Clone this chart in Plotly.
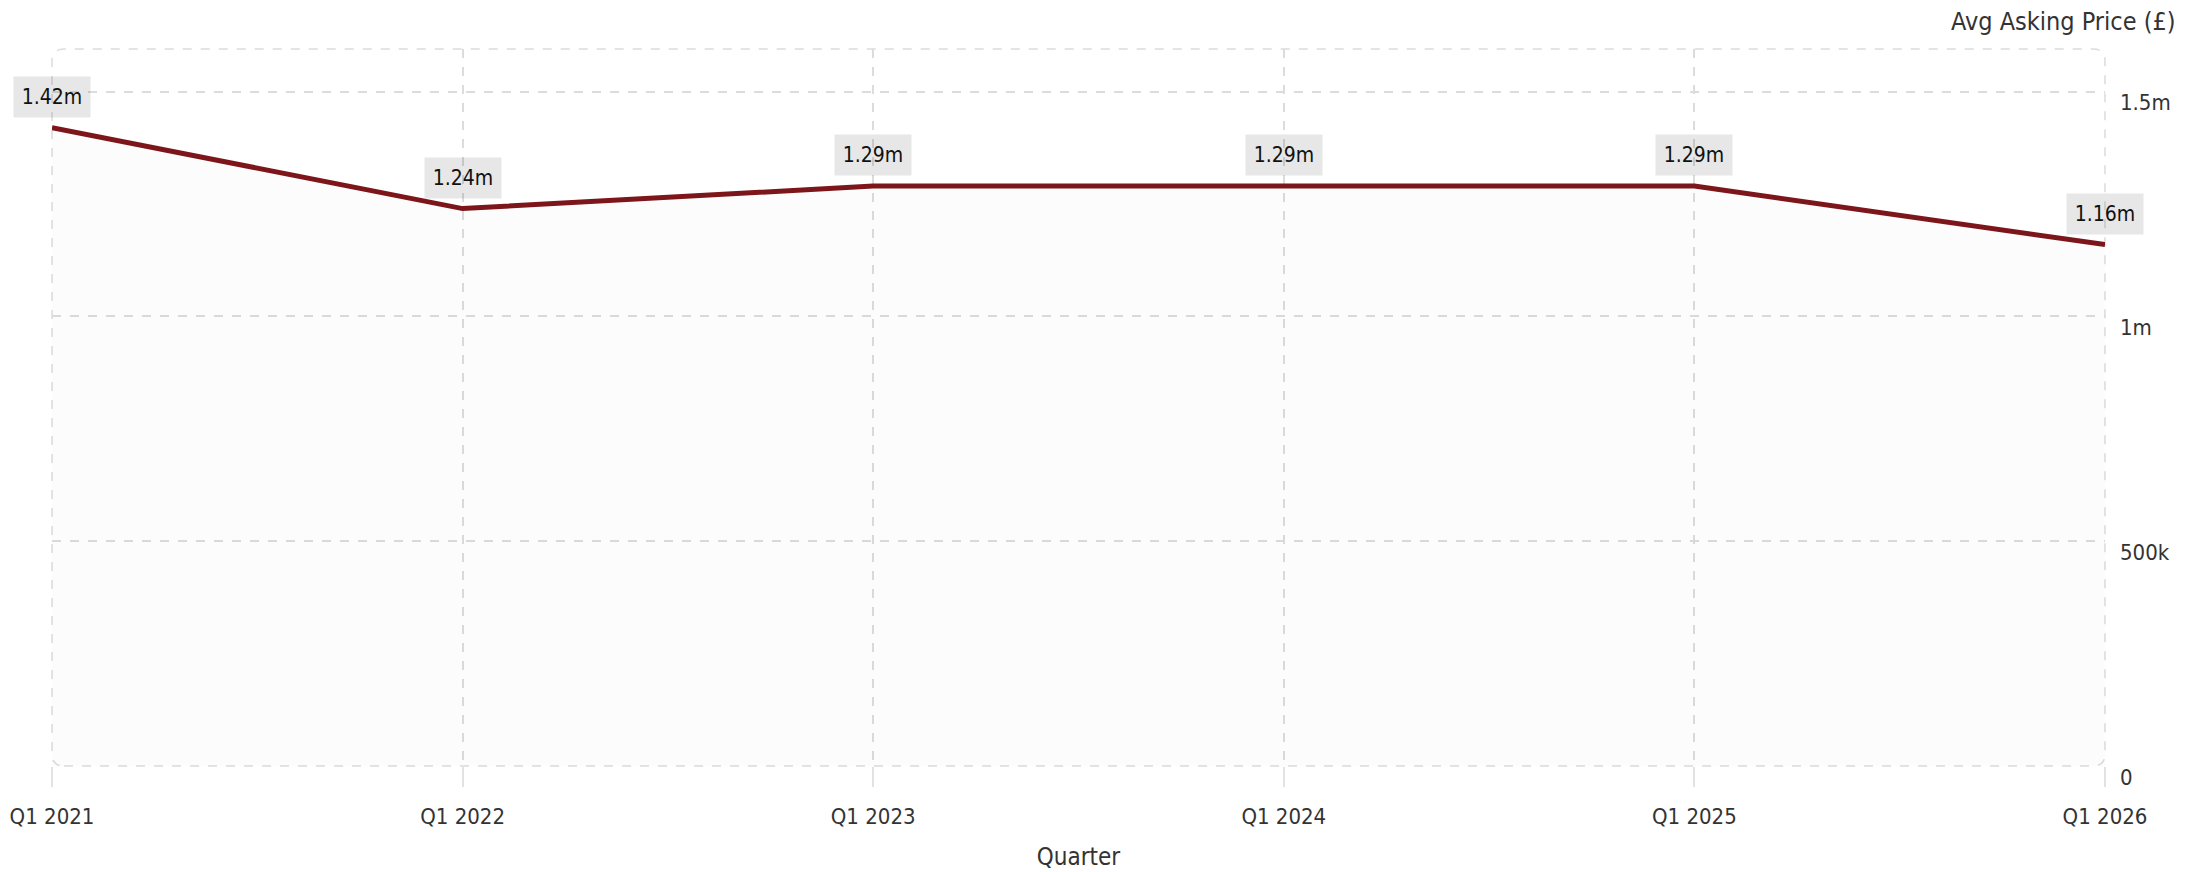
import plotly.graph_objects as go

quarters = ["Q1 2021", "Q1 2022", "Q1 2023", "Q1 2024", "Q1 2025", "Q1 2026"]
avg_price = [1420000, 1240000, 1290000, 1290000, 1290000, 1160000]
price_labels = ["1.42m", "1.24m", "1.29m", "1.29m", "1.29m", "1.16m"]
y_tickvals = [0, 500000, 1000000, 1500000]
y_ticktext = ["0", "500k", "1m", "1.5m"]

FONT = "DejaVu Sans Condensed, DejaVu Sans, sans-serif"
W, H = 2205, 872
ML, MR, MT, MB = 52, 100, 49, 106

fig = go.Figure()
fig.add_trace(go.Scatter(
    x=quarters, y=avg_price, mode="lines",
    line=dict(color="#7c161a", width=5),
    fill="tozeroy", fillcolor="rgba(0,0,0,0.012)",
    hoverinfo="skip", showlegend=False,
))

for q, v, t in zip(quarters, avg_price, price_labels):
    fig.add_annotation(
        x=q, y=v, xref="x", yref="y", text=t, showarrow=False,
        yanchor="bottom", yshift=10, bgcolor="rgba(0,0,0,0.095)", borderpad=8,
        width=60, font=dict(family=FONT, size=21, color="#111"),
    )

fig.add_annotation(
    xref="paper", yref="paper", x=1, y=1, xanchor="right", yanchor="bottom",
    xshift=73, yshift=11, text="Avg Asking Price (£)", showarrow=False,
    font=dict(family=FONT, size=25, color="#333"),
)

# rounded dashed frame around plot area
pw, ph = W - ML - MR, H - MT - MB
rx, ry = 12 / pw, 12 / ph
path = (f"M {rx},0 L {1-rx},0 Q 1,0 1,{ry} L 1,{1-ry} Q 1,1 {1-rx},1 "
        f"L {rx},1 Q 0,1 0,{1-ry} L 0,{ry} Q 0,0 {rx},0 Z")
fig.add_shape(type="path", path=path, xref="paper", yref="paper",
              line=dict(color="#dcdcdc", width=1.5, dash="dash"), layer="below")

fig.update_layout(
    width=W, height=H, margin=dict(l=ML, r=MR, t=MT, b=MB, autoexpand=False),
    paper_bgcolor="white", plot_bgcolor="white",
    font=dict(family=FONT, size=22, color="#333"),
    xaxis=dict(
        type="category", range=[0, 5], showgrid=True, gridcolor="#dcdcdc",
        griddash="dash", gridwidth=1.5, zeroline=False, showline=False,
        ticks="outside", ticklen=20, tickcolor="#e2e2e2", tickwidth=1.5,
        ticklabelstandoff=11, automargin=False,
        tickfont=dict(size=22, color="#333"),
        title=dict(text="Quarter", standoff=19, font=dict(size=24, color="#333")),
    ),
    yaxis=dict(
        side="right", range=[0, 1595000], tickvals=y_tickvals, ticktext=y_ticktext,
        showgrid=True, gridcolor="#dcdcdc", griddash="dash", gridwidth=1.5,
        zeroline=False, showline=False, ticks="", ticklabelstandoff=14,
        ticklabelshift=11, automargin=False,
        tickfont=dict(size=22, color="#333"),
    ),
)

fig.write_html("out.html")
